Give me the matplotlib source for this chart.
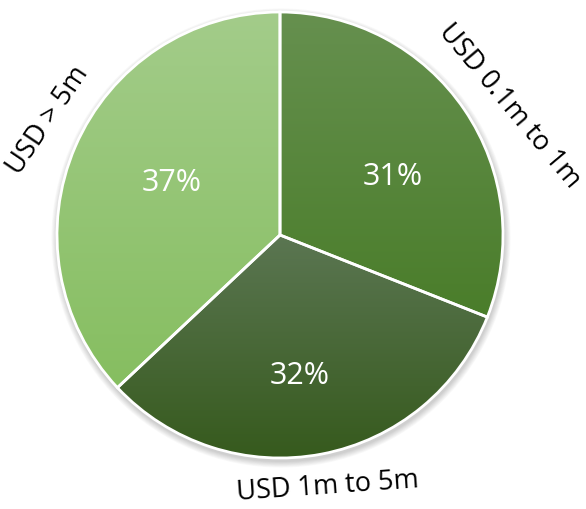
import numpy as np
import matplotlib
matplotlib.use("Agg")
import matplotlib.pyplot as plt
from matplotlib.colors import LinearSegmentedColormap

labels = ["USD 0.1m to 1m", "USD 1m to 5m", "USD > 5m"]
shares = [31, 32, 37]
top_colors = ["#66904f", "#5b7652", "#a3cc8a"]
bottom_colors = ["#4a7d2a", "#365a1d", "#86be60"]

# hand-tuned placement (angle offset in degrees, radius as fraction of R)
pct_shift = [(-7, 0.57), (-3, 0.64), (-2, 0.54)]
lab_shift = [(-5, 1.18), (0, 1.15), (-3, 1.16)]
lab_rot = [-50, 4, 56]

plt.rcParams['font.family'] = ['Open Sans', 'DejaVu Sans']

fig = plt.figure(figsize=(5.86, 5.09), dpi=100)
ax = fig.add_axes([0, 0, 1, 1])

cx, cy, R = 280, 274, 223

# soft drop shadow under the pie
for i in range(8):
    ax.add_patch(plt.Circle((cx + 1, cy - 3), R + 1 + i * 0.8, color="black",
                            alpha=0.025, lw=0, zorder=0))

wedges, _ = ax.pie(shares, startangle=90, counterclock=False, radius=R,
                   center=(cx, cy), colors=["none"] * 3,
                   wedgeprops=dict(edgecolor="white", linewidth=2),
                   frame=True)

for w, c1, c2 in zip(wedges, top_colors, bottom_colors):
    t = np.radians(np.linspace(w.theta1, w.theta2, 200))
    xs = np.concatenate([[cx], cx + R * np.cos(t)])
    ys = np.concatenate([[cy], cy + R * np.sin(t)])
    cmap = LinearSegmentedColormap.from_list("g", [c2, c1])
    grad = np.linspace(0, 1, 256).reshape(-1, 1)
    im = ax.imshow(grad, cmap=cmap, origin="lower", aspect="auto",
                   extent=[xs.min(), xs.max(), ys.min(), ys.max()], zorder=1)
    im.set_clip_path(w)
    w.set_zorder(2)

for w, lab, s, ps, ls, rot in zip(wedges, labels, shares, pct_shift, lab_shift, lab_rot):
    mid = (w.theta1 + w.theta2) / 2
    a = np.radians(mid + ps[0])
    ax.text(cx + ps[1] * R * np.cos(a), cy + ps[1] * R * np.sin(a), f"{s}%",
            color="white", fontsize=22, ha="center", va="center", zorder=3)
    a = np.radians(mid + ls[0])
    ax.text(cx + ls[1] * R * np.cos(a), cy + ls[1] * R * np.sin(a), lab,
            color="black", fontsize=19.5, ha="center", va="center",
            rotation=rot, rotation_mode="anchor", zorder=3)

ax.set_xlim(0, 586)
ax.set_ylim(0, 509)
ax.set_aspect("equal")
ax.axis("off")

fig.savefig("out.png", dpi=100)
